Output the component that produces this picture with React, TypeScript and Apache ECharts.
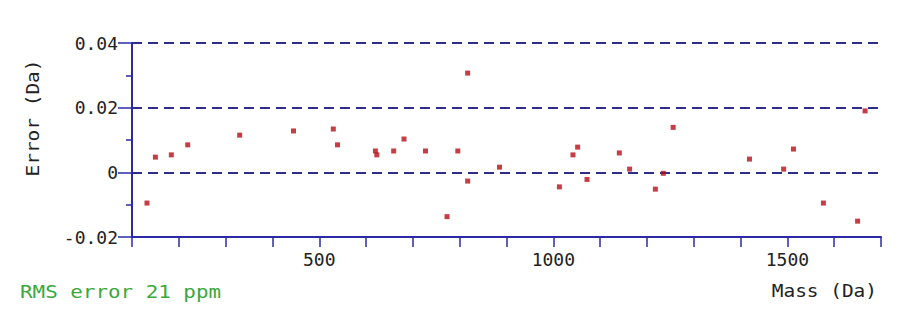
import React, { useEffect, useRef } from "react";
import * as echarts from "echarts";

const massDa = [132, 150, 184, 219, 330, 445, 530, 539, 620, 623, 659, 681, 727, 773, 796, 817, 817, 885, 1013, 1042, 1052, 1072, 1141, 1163, 1218, 1235, 1256, 1419, 1492, 1513, 1577, 1650, 1666];
const errorDa = [-0.0095, 0.0047, 0.0054, 0.0085, 0.0115, 0.0128, 0.0134, 0.0085, 0.0066, 0.0054, 0.0066, 0.0103, 0.0066, -0.0137, 0.0066, 0.0307, -0.0027, 0.0016, -0.0045, 0.0054, 0.0078, -0.0022, 0.006, 0.001, -0.0052, -0.0003, 0.0139, 0.0041, 0.001, 0.0072, -0.0095, -0.0151, 0.019];
const xLabelValues = [500, 1000, 1500];
const yTitle = "Error (Da)";
const xTitle = "Mass (Da)";
const noteText = "RMS error 21 ppm";

const FONT = "'DejaVu Sans Mono', 'Liberation Mono', monospace";
const AXIS = "#2a2aa6";

export default function App() {
  const ref = useRef<HTMLDivElement>(null);
  useEffect(() => {
    if (!ref.current) return;
    const chart = echarts.init(ref.current, undefined, { renderer: "svg" });
    const data = massDa.map((m, i) => [m, errorDa[i]]);
    chart.setOption({
      animation: false,
      backgroundColor: "#ffffff",
      grid: { left: 132, right: 23, top: 43, bottom: 84 },
      xAxis: {
        type: "value",
        min: 100,
        max: 1700,
        interval: 100,
        axisLine: { show: true, onZero: false, lineStyle: { color: AXIS, width: 2 } },
        axisTick: { show: true, length: 10, lineStyle: { color: AXIS, width: 1.5 } },
        axisLabel: {
          margin: 13,
          color: "#222",
          fontFamily: FONT,
          fontSize: 18,
          showMinLabel: true,
          showMaxLabel: true,
          formatter: (v: number) => (xLabelValues.includes(Math.round(v)) ? String(Math.round(v)) : ""),
        },
        splitLine: { show: false },
      },
      yAxis: {
        type: "value",
        min: -0.02,
        max: 0.04,
        interval: 0.02,
        axisLine: { show: true, onZero: false, lineStyle: { color: AXIS, width: 2 } },
        axisTick: { show: true, length: 14, lineStyle: { color: AXIS, width: 1.5 } },
        minorTick: { show: true, splitNumber: 2, length: 6, lineStyle: { color: AXIS, width: 1.5 } },
        axisLabel: {
          margin: 14,
          color: "#222",
          fontFamily: FONT,
          fontSize: 18,
          formatter: (v: number) => (Math.abs(v) < 1e-9 ? "0" : v.toFixed(2)),
        },
        splitLine: { show: true, lineStyle: { color: "#2e2e8a", width: 2, type: [10, 6] } },
      },
      graphic: [
        {
          type: "text",
          x: 33,
          y: 118,
          rotation: Math.PI / 2,
          scaleX: 1.08,
          style: {
            text: yTitle,
            fill: "#222",
            font: `18px ${FONT}`,
            align: "center",
            verticalAlign: "middle",
          },
        },
        {
          type: "text",
          x: 877,
          y: 291,
          scaleX: 1.08,
          style: { text: xTitle, fill: "#222", font: `18px ${FONT}`, align: "right", verticalAlign: "middle" },
        },
        {
          type: "text",
          x: 20,
          y: 292,
          scaleX: 1.16,
          style: { text: noteText, fill: "#3aa83a", font: `18px ${FONT}`, align: "left", verticalAlign: "middle" },
        },
      ],
      series: [
        {
          type: "scatter",
          data,
          symbol: "rect",
          symbolSize: 5,
          itemStyle: { color: "#b80d18" },
        },
      ],
    });
    return () => chart.dispose();
  }, []);
  return <div ref={ref} style={{ position: "fixed", left: 0, top: 0, width: 904, height: 321 }} />;
}
